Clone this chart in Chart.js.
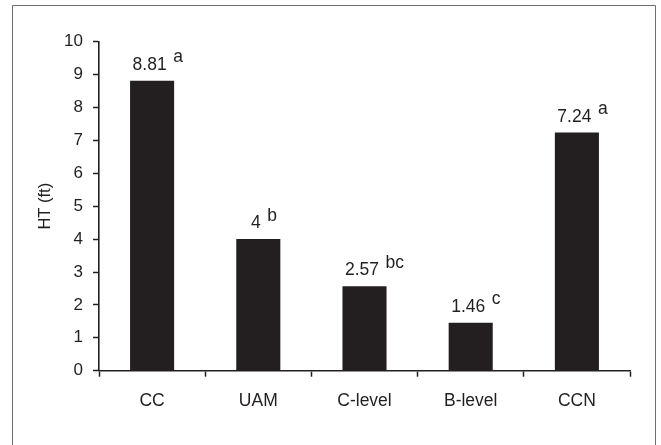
<!DOCTYPE html>
<html>
<head>
<meta charset="utf-8">
<script src="https://cdn.jsdelivr.net/npm/chart.js@4/dist/chart.umd.min.js"></script>
<style>
  html, body { margin: 0; padding: 0; background: #ffffff; }
  #wrap { width: 661px; height: 445px; position: relative; }
</style>
</head>
<body>
<div id="wrap"><canvas id="c" width="661" height="445"></canvas></div>
<script>
// Treatments and mean height values
const categories = ['CC', 'UAM', 'C-level', 'B-level', 'CCN'];
const heightValues = [8.81, 4, 2.57, 1.46, 7.24];
// Significance groupings shown next to each value
const groupLetters = ['a', 'b', 'bc', 'c', 'a'];
const yTicks = [0, 1, 2, 3, 4, 5, 6, 7, 8, 9, 10];
const yTitle = 'HT (ft)';

const INK = '#231f20';
const FONT = '"Liberation Sans", Arial, Helvetica, sans-serif';

// Outer frame around the figure (open at the bottom edge)
const framePlugin = {
  id: 'frame',
  beforeDraw(chart) {
    const ctx = chart.ctx;
    ctx.save();
    ctx.fillStyle = '#ffffff';
    ctx.fillRect(0, 0, chart.width, chart.height);
    ctx.strokeStyle = '#6e6e6e';
    ctx.lineWidth = 1;
    ctx.beginPath();
    ctx.moveTo(12.5, chart.height);
    ctx.lineTo(12.5, 5.5);
    ctx.lineTo(655.5, 5.5);
    ctx.lineTo(655.5, chart.height);
    ctx.stroke();
    ctx.restore();
  }
};

// Value labels with raised group letters above each bar
const valueLabelPlugin = {
  id: 'valueLabels',
  afterDatasetsDraw(chart) {
    const ctx = chart.ctx;
    const meta = chart.getDatasetMeta(0);
    ctx.save();
    ctx.fillStyle = INK;
    ctx.textBaseline = 'alphabetic';
    ctx.font = '17.5px ' + FONT;
    meta.data.forEach((bar, i) => {
      const txt = String(heightValues[i]);
      const w = ctx.measureText(txt).width;
      const cx = bar.x - 2.5;
      const baseY = bar.y - 11;
      ctx.textAlign = 'center';
      ctx.fillText(txt, cx, baseY);
      ctx.textAlign = 'left';
      ctx.fillText(groupLetters[i], cx + w / 2 + 6.5, baseY - 7.5);
    });
    ctx.restore();
  }
};

new Chart(document.getElementById('c'), {
  type: 'bar',
  data: {
    labels: categories,
    datasets: [{
      data: heightValues,
      backgroundColor: INK,
      borderWidth: 0,
      barPercentage: 0.415,
      categoryPercentage: 1.0
    }]
  },
  options: {
    responsive: false,
    animation: false,
    devicePixelRatio: 1,
    layout: { padding: { left: 0, top: 41.7, right: 31, bottom: 24.3 } },
    plugins: {
      legend: { display: false },
      tooltip: { enabled: false }
    },
    scales: {
      x: {
        offset: true,
        grid: {
          offset: true,
          drawOnChartArea: false,
          drawTicks: true,
          tickLength: 6,
          tickWidth: 1.5,
          tickColor: INK
        },
        border: { display: true, color: INK, width: 1.6 },
        ticks: {
          color: INK,
          font: { family: FONT, size: 17.5 },
          padding: 14,
          maxRotation: 0
        },
        afterFit(scale) { scale.height = 50; }
      },
      y: {
        min: 0,
        max: 10,
        afterBuildTicks(scale) { scale.ticks = yTicks.map(v => ({ value: v })); },
        grid: {
          drawOnChartArea: false,
          drawTicks: true,
          tickLength: 6,
          tickWidth: 1.5,
          tickColor: INK
        },
        border: { display: true, color: INK, width: 1.6 },
        ticks: {
          color: INK,
          font: { family: FONT, size: 17 },
          padding: 10
        },
        title: {
          display: true,
          text: yTitle,
          color: INK,
          font: { family: FONT, size: 16.5 },
          padding: { top: 36, bottom: 0 }
        },
        afterFit(scale) { scale.width = 99; }
      }
    }
  },
  plugins: [framePlugin, valueLabelPlugin]
});
</script>
</body>
</html>
